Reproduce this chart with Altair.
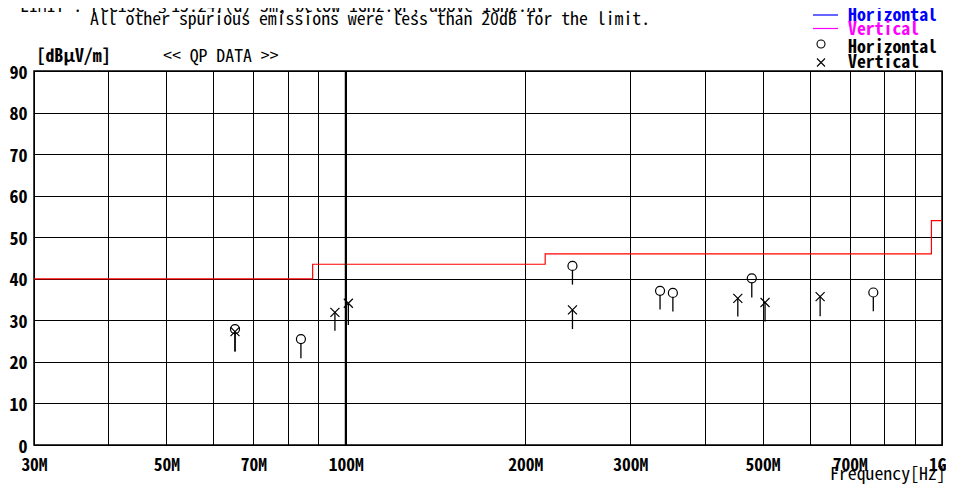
import altair as alt
import pandas as pd

FONT = "'Noto Sans Mono CJK JP', 'Noto Sans CJK JP', 'DejaVu Sans Mono', monospace"

# ---- data ----
limit_freq = [30, 88, 216, 960, 1000]
limit_level = [40, 43.5, 46, 54, 54]

h_freq = [65.2, 84.1, 240, 336.6, 353.7, 479.7, 767]
h_level = [27.9, 25.5, 43.1, 37.1, 36.6, 40.1, 36.7]
h_stem = [22.5, 20.9, 38.6, 32.6, 32.1, 35.5, 32.2]

v_freq = [65.2, 95.9, 101, 240, 454.5, 504.9, 624.6]
v_level = [27.3, 31.9, 34.1, 32.5, 35.3, 34.3, 35.7]
v_stem = [22.5, 27.5, 28.9, 27.9, 30.9, 29.7, 31.0]

x_ticks = [30, 40, 50, 60, 70, 80, 90, 100, 200, 300, 400, 500, 600, 700, 800, 900, 1000]
x_labeled = [30, 50, 70, 100, 200, 300, 500, 700]
y_ticks = [0, 10, 20, 30, 40, 50, 60, 70, 80, 90]
emph_lines = [100]

title_1 = "LIMIT : FCC15C §15.247(d) 3m, below 1GHz:QP, above 1GHz:AV"
title_2 = "All other spurious emissions were less than 20dB for the limit."
y_unit = "[dBμV/m]"
mode_text = "<< QP DATA >>"
x_title = "Frequency[Hz]"
legend_names = ["Horizontal", "Vertical"]

# ---- frames ----
limit_df = pd.DataFrame({"freq": limit_freq, "level": limit_level})
h_df = pd.DataFrame({"freq": h_freq, "level": h_level, "stem": h_stem})
v_df = pd.DataFrame({"freq": v_freq, "level": v_level, "stem": v_stem})
emph_df = pd.DataFrame({"freq": emph_lines})

lab_list = ",".join(str(v) for v in x_labeled)
x_axis = alt.Axis(
    values=x_ticks,
    labelExpr=f"datum.value == 1000 ? '1G' : (indexof([{lab_list}], datum.value) >= 0 ? datum.value + 'M' : '')",
    grid=True, gridColor="#000", gridWidth=1, gridOpacity=1,
    ticks=False, tickSize=0, domain=False,
    labelFont=FONT, labelFontSize=17.5, labelFontWeight="bold", labelColor="#000",
    labelBaseline="alphabetic", labelPadding=25,
    labelAlign={"condition": {"test": "datum.value == 1000", "value": "right"}, "value": "center"},
    labelOffset={"condition": {"test": "datum.value == 1000", "value": 4}, "value": 0},
    labelOverlap=False, labelFlush=False, title=None,
)
y_axis = alt.Axis(
    values=y_ticks,
    grid=True, gridColor="#000", gridWidth=1, gridOpacity=1,
    ticks=False, tickSize=0, domain=False,
    labelFont=FONT, labelFontSize=18, labelFontWeight="bold", labelColor="#000",
    labelBaseline="middle", labelOffset=2, labelPadding=7,
    labelOverlap=False, labelFlush=False, title=None,
)
xs = alt.Scale(type="log", domain=[30, 1000], nice=False)
ys = alt.Scale(domain=[0, 90], nice=False)


def X():
    return alt.X("freq:Q", scale=xs, axis=x_axis)


def Y(field="level"):
    return alt.Y(f"{field}:Q", scale=ys, axis=y_axis)


limit = alt.Chart(limit_df).mark_line(
    color="#ff0000", strokeWidth=1.2, interpolate="step-after"
).encode(x=X(), y=Y())

emph = alt.Chart(emph_df).mark_rule(color="#000", strokeWidth=2).encode(x=X())

h_stems = alt.Chart(h_df).mark_rule(color="#000", strokeWidth=1.3, yOffset=4.5).encode(
    x=X(), y=Y(), y2="stem:Q")
v_stems = alt.Chart(v_df).mark_rule(color="#000", strokeWidth=1.3).encode(
    x=X(), y=Y(), y2="stem:Q")

circles = alt.Chart(h_df).mark_point(
    shape="circle", size=81, filled=False, color="#000", strokeWidth=1.2, opacity=1
).encode(x=X(), y=Y())
XPATH = "M-1,-1L1,1M-1,1L1,-1"
crosses = alt.Chart(v_df).mark_point(
    shape=XPATH, size=81, filled=False, color="#000", strokeWidth=1.2, opacity=1
).encode(x=X(), y=Y())

one = alt.Data(values=[{}])


def txt(s, x, y, color="#000", weight="normal", size=17.8, align="left"):
    return alt.Chart(one).mark_text(
        text=s, font=FONT, fontSize=size, fontWeight=weight, color=color,
        align=align, baseline="alphabetic"
    ).encode(x=alt.value(x), y=alt.value(y))


def seg(x1, x2, y, color):
    return alt.Chart(one).mark_rule(color=color, strokeWidth=1.2).encode(
        x=alt.value(x1), x2=alt.value(x2), y=alt.value(y))


def sym(shape, x, y):
    return alt.Chart(one).mark_point(
        shape=shape, size=64, filled=False, color="#000", strokeWidth=1.1, opacity=1
    ).encode(x=alt.value(x), y=alt.value(y))


annots = [
    txt(title_1, -14, -59),
    txt(title_2, 56, -46),
    txt(y_unit, 2.5, -9.5, weight="bold"),
    txt(mode_text, 129, -9.5),
    txt(x_title, 796, 409),
    seg(779, 804, -56, "#0000ff"),
    seg(779, 804, -42.5, "#ff00ff"),
    txt(legend_names[0], 814, -50, color="#0000ff", weight="bold"),
    txt(legend_names[1], 814, -36.5, color="#ff00ff", weight="bold"),
    sym("circle", 787, -27),
    sym(XPATH, 787, -8.5),
    txt(legend_names[0], 814, -18, weight="bold"),
    txt(legend_names[1], 814, -3, weight="bold"),
]

chart = alt.layer(limit, emph, h_stems, v_stems, circles, crosses, *annots).properties(
    width=908, height=374,
    autosize=alt.AutoSizeParams(type="none"),
    padding={"left": 26, "top": 63, "right": 4, "bottom": 39},
    background="white",
).configure_view(stroke="#000", strokeWidth=1.5)

chart.save("out.html", embed_options={"renderer": "svg", "actions": False})
